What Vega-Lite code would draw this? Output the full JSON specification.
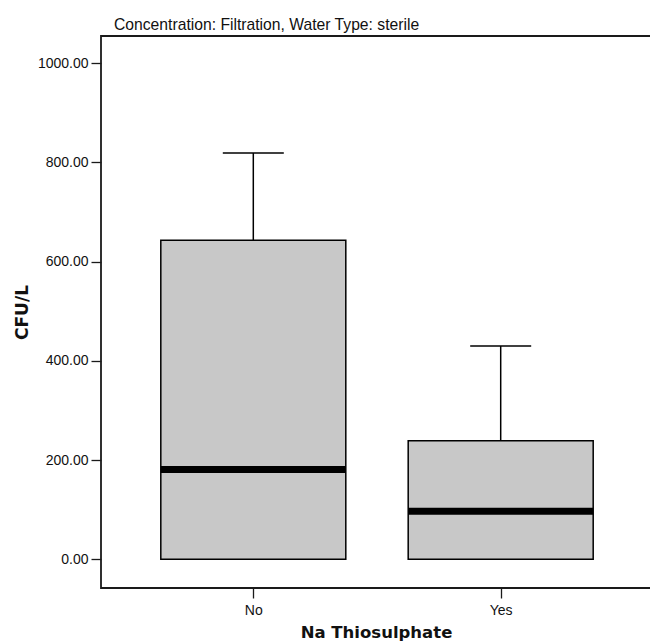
{
  "$schema": "https://vega.github.io/schema/vega-lite/v6.json",
  "width": 550,
  "height": 552,
  "autosize": "none",
  "padding": {"left": 101, "top": 36, "right": 0, "bottom": 54},
  "background": "white",
  "title": {
    "text": "Concentration: Filtration, Water Type: sterile",
    "anchor": "start",
    "frame": "group",
    "dx": 13,
    "fontSize": 15.7,
    "font": "Liberation Sans",
    "fontWeight": "normal",
    "color": "#111111",
    "baseline": "alphabetic",
    "offset": -10
  },
  "data": {
    "values": [
      {"group": "No", "q1": 0, "median": 181, "q3": 643, "upper": 819},
      {"group": "Yes", "q1": 0, "median": 97, "q3": 239, "upper": 430}
    ]
  },
  "encoding": {
    "x": {
      "field": "group", "type": "nominal",
      "scale": {"type": "point", "padding": 0.6116, "align": 0.5033, "domain": ["No", "Yes"]},
      "axis": {"orient": "bottom", "title": "Na Thiosulphate", "labelAngle": 0, "tickSize": 10, "labelPadding": 5, "titleFontSize": 16.5, "titlePadding": 7, "domain": false}
    }
  },
  "layer": [
    {
      "mark": {"type": "bar", "size": 185, "fill": "#c8c8c8", "stroke": "#000000", "strokeWidth": 1.5, "opacity": 1},
      "encoding": {
        "y": {
          "field": "q1", "type": "quantitative",
          "scale": {"domain": [-57.9, 1055], "nice": false, "zero": false},
          "axis": {"title": "CFU/L", "values": [0, 200, 400, 600, 800, 1000], "format": ".2f", "tickSize": 10, "labelPadding": 3, "titleFontSize": 17, "titlePadding": 6, "domain": false}
        },
        "y2": {"field": "q3"}
      }
    },
    {
      "mark": {"type": "rule", "color": "#000000", "strokeWidth": 1.5},
      "encoding": {
        "y": {"field": "q3", "type": "quantitative"},
        "y2": {"field": "upper"}
      }
    },
    {
      "mark": {"type": "tick", "color": "#000000", "size": 61, "thickness": 1.5, "opacity": 1},
      "encoding": {
        "y": {"field": "upper", "type": "quantitative"}
      }
    },
    {
      "mark": {"type": "tick", "color": "#000000", "size": 185, "thickness": 7, "opacity": 1},
      "encoding": {
        "y": {"field": "median", "type": "quantitative"}
      }
    }
  ],
  "config": {
    "view": {"stroke": "#1a1a1a", "strokeWidth": 1.8},
    "axis": {
      "grid": false,
      "tickColor": "#1a1a1a",
      "tickWidth": 1.3,
      "labelColor": "#111111",
      "labelFont": "Liberation Sans",
      "labelFontSize": 14,
      "titleColor": "#111111",
      "titleFont": "DejaVu Sans",
      "titleFontWeight": "bold"
    }
  }
}
